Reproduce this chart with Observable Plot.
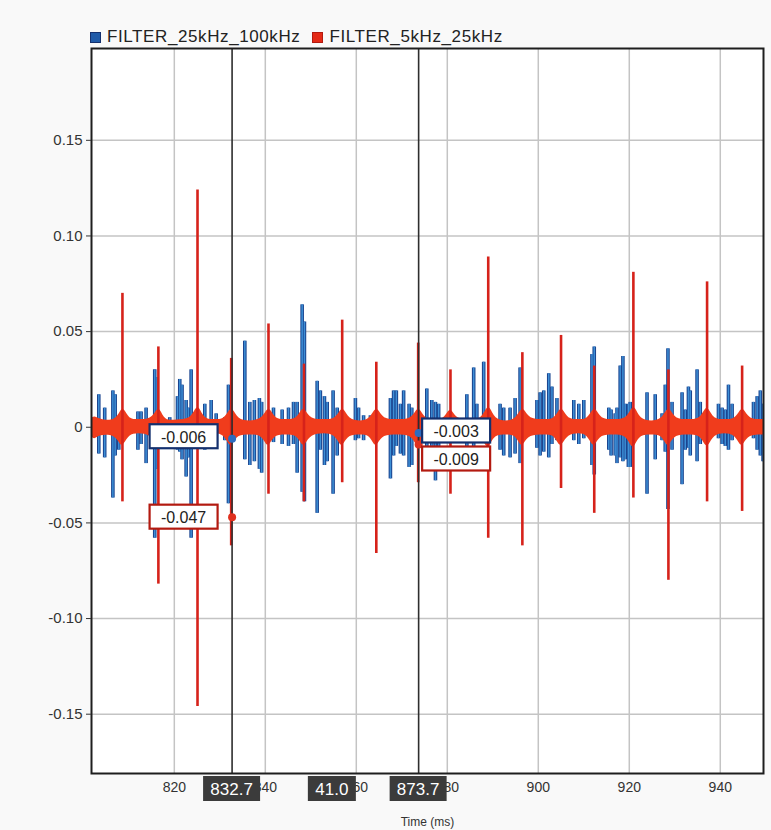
<!DOCTYPE html>
<html><head><meta charset="utf-8">
<script src="https://cdn.jsdelivr.net/npm/d3@7"></script>
<script src="https://cdn.jsdelivr.net/npm/@observablehq/plot@0.6"></script>
<style>
html,body{margin:0;padding:0;background:#f9f9f9;}
#wrap{position:relative;width:771px;height:830px;}
#legend{position:absolute;top:27px;left:90px;display:flex;align-items:center;font:17px "Liberation Sans",Arial,sans-serif;color:#222;letter-spacing:0.6px;white-space:nowrap;}
.item{display:flex;align-items:center;margin-right:12px;}
.sw{width:9px;height:9px;border:1px solid;margin-right:6px;}
svg{position:absolute;top:0;left:0;}
</style></head><body><div id="wrap"><div id="legend"></div></div>
<script>
// ---- series / legend ----
const seriesNames = ["FILTER_25kHz_100kHz", "FILTER_5kHz_25kHz"];
const seriesColors = ["#1f5aa8", "#e42a17"];
const seriesBorders = ["#14306e", "#b31a10"];

// ---- axes ----
const xTicks = [820, 840, 860, 880, 900, 920, 940];
const yTicks = [-0.15, -0.10, -0.05, 0, 0.05, 0.10, 0.15];

// ---- FILTER_25kHz_100kHz (blue) spikes: time, min, max ----
const blueT  = [803.4,804.7,806.5,807.0,807.8,812.0,812.7,813.8,815.7,816.2,819.0,820.7,821.2,821.7,822.6,823.1,823.7,826.7,828.1,829.2,831.1,831.9,835.5,836.6,837.6,838.7,839.2,841.8,843.7,845.1,846.2,847.0,848.1,848.6,851.4,852.1,853.0,853.6,854.9,855.8,859.8,860.5,861.6,863.1,867.5,868.2,868.8,869.7,870.4,871.6,872.2,875.5,876.6,877.4,878.1,884.3,885.8,886.5,888.0,891.6,892.4,893.8,894.9,896.0,899.7,900.4,901.2,902.3,903.0,904.1,907.8,908.9,910.0,911.8,912.3,915.5,916.0,916.9,917.3,918.0,918.6,919.1,919.8,920.2,923.9,925.7,927.2,927.9,928.5,929.4,931.6,932.3,933.0,933.4,934.9,935.6,939.6,940.4,941.1,941.8,942.6,947.3,948.1,948.8,949.4];
const blueLo = [-0.014,-0.016,-0.037,-0.015,-0.012,-0.012,-0.009,-0.019,-0.058,-0.022,-0.010,-0.012,-0.013,-0.017,-0.026,-0.016,-0.058,-0.012,-0.009,-0.009,-0.007,-0.040,-0.017,-0.020,-0.018,-0.022,-0.024,-0.008,-0.009,-0.010,-0.009,-0.024,-0.034,-0.039,-0.045,-0.012,-0.020,-0.018,-0.035,-0.015,-0.007,-0.006,-0.007,-0.005,-0.027,-0.015,-0.010,-0.014,-0.015,-0.021,-0.020,-0.022,-0.010,-0.028,-0.012,-0.017,-0.015,-0.007,-0.008,-0.012,-0.015,-0.016,-0.014,-0.019,-0.011,-0.015,-0.013,-0.016,-0.009,-0.007,-0.007,-0.009,-0.006,-0.020,-0.025,-0.012,-0.015,-0.015,-0.019,-0.016,-0.018,-0.017,-0.021,-0.021,-0.035,-0.017,-0.007,-0.013,-0.043,-0.012,-0.030,-0.012,-0.011,-0.015,-0.018,-0.009,-0.006,-0.009,-0.010,-0.012,-0.007,-0.006,-0.012,-0.015,-0.018];
const blueHi = [0.017,0.010,0.019,0.017,0.005,0.008,0.008,0.010,0.030,0.026,0.005,0.016,0.025,0.022,0.014,0.010,0.030,0.012,0.014,0.007,0.005,0.022,0.045,0.013,0.014,0.015,0.013,0.010,0.009,0.010,0.013,0.013,0.064,0.055,0.024,0.019,0.016,0.013,0.019,0.010,0.015,0.010,0.006,0.006,0.015,0.019,0.019,0.012,0.019,0.012,0.010,0.020,0.014,0.013,0.012,0.017,0.031,0.012,0.034,0.012,0.010,0.010,0.015,0.031,0.014,0.018,0.019,0.028,0.021,0.015,0.014,0.012,0.014,0.038,0.042,0.010,0.009,0.007,0.010,0.032,0.037,0.012,0.012,0.013,0.018,0.017,0.007,0.022,0.041,0.013,0.018,0.009,0.021,0.019,0.030,0.013,0.012,0.010,0.009,0.022,0.012,0.013,0.016,0.019,0.012];

// ---- FILTER_5kHz_25kHz (red) burst spikes: time, min, max ----
const redT  = [808.6,816.5,825.1,832.5,840.7,848.5,856.9,864.4,873.6,880.7,889.0,896.5,905.0,912.3,920.9,928.6,937.1,944.8];
const redLo = [-0.039,-0.082,-0.146,-0.062,-0.035,-0.039,-0.029,-0.066,-0.029,-0.035,-0.058,-0.062,-0.032,-0.045,-0.037,-0.080,-0.039,-0.044];
const redHi = [0.070,0.042,0.124,0.036,0.054,0.033,0.056,0.034,0.044,0.030,0.089,0.039,0.048,0.032,0.081,0.030,0.076,0.032];

// ---- red noise band envelope ----
const bandT  = [801.5,802.5,803.5,807.1,808.2,809.0,810.1,812.0,815.0,816.1,816.9,818.0,820.5,823.6,824.7,825.5,826.6,829.0,831.0,832.1,832.9,834.0,836.5,839.2,840.3,841.1,842.2,844.5,847.0,848.1,848.9,850.0,853.0,855.4,856.5,857.3,858.4,861.0,862.9,864.0,864.8,865.9,869.0,872.1,873.2,874.0,875.1,877.5,879.2,880.3,881.1,882.2,885.0,887.5,888.6,889.4,890.5,893.0,895.0,896.1,896.9,898.0,901.5,903.5,904.6,905.4,906.5,909.0,910.8,911.9,912.7,913.8,916.5,919.4,920.5,921.3,922.4,925.0,927.1,928.2,929.0,930.1,933.0,935.6,936.7,937.5,938.6,941.0,943.3,944.4,945.2,946.3,949.5];
const bandLo = [-0.004,-0.007,-0.004,-0.004,-0.010,-0.009,-0.004,-0.003,-0.004,-0.010,-0.009,-0.004,-0.004,-0.004,-0.011,-0.010,-0.004,-0.003,-0.004,-0.010,-0.009,-0.004,-0.004,-0.004,-0.010,-0.009,-0.004,-0.004,-0.004,-0.010,-0.009,-0.004,-0.003,-0.004,-0.010,-0.009,-0.004,-0.004,-0.004,-0.010,-0.009,-0.004,-0.004,-0.004,-0.010,-0.009,-0.004,-0.003,-0.004,-0.009,-0.009,-0.004,-0.004,-0.004,-0.011,-0.010,-0.004,-0.004,-0.004,-0.010,-0.009,-0.004,-0.004,-0.004,-0.010,-0.009,-0.004,-0.003,-0.004,-0.010,-0.009,-0.004,-0.004,-0.004,-0.011,-0.010,-0.004,-0.004,-0.004,-0.010,-0.009,-0.004,-0.004,-0.004,-0.010,-0.010,-0.004,-0.003,-0.004,-0.010,-0.009,-0.004,-0.004];
const bandHi = [0.004,0.006,0.004,0.003,0.009,0.010,0.004,0.004,0.004,0.009,0.010,0.003,0.004,0.004,0.010,0.011,0.004,0.004,0.004,0.009,0.010,0.004,0.003,0.004,0.009,0.010,0.004,0.004,0.004,0.010,0.009,0.004,0.004,0.004,0.009,0.010,0.004,0.003,0.004,0.009,0.010,0.004,0.004,0.004,0.009,0.010,0.004,0.004,0.004,0.009,0.009,0.004,0.004,0.004,0.010,0.011,0.004,0.003,0.004,0.009,0.010,0.004,0.004,0.004,0.009,0.010,0.004,0.004,0.004,0.009,0.010,0.004,0.004,0.004,0.010,0.011,0.004,0.003,0.004,0.009,0.010,0.004,0.004,0.004,0.010,0.010,0.004,0.004,0.004,0.009,0.010,0.004,0.004];

// ---- cursors ----
const cursorT = [832.7, 873.7];
const cursorBlue = [-0.006, -0.003];
const cursorRed = [-0.047, -0.009];

// ---- build tables ----
const blue = blueT.map((t, i) => ({t, lo: blueLo[i], hi: blueHi[i]}));
const red = redT.map((t, i) => ({t, lo: redLo[i], hi: redHi[i]}));
const band = bandT.map((t, i) => ({t, lo: bandLo[i], hi: bandHi[i]}));
const dotsBlue = cursorT.map((t, i) => ({t, v: cursorBlue[i]}));
const dotsRed = cursorT.map((t, i) => ({t, v: cursorRed[i]}));

// legend
const leg = document.getElementById("legend");
seriesNames.forEach((n, i) => {
  const it = document.createElement("div"); it.className = "item";
  const sw = document.createElement("div"); sw.className = "sw";
  sw.style.background = seriesColors[i]; sw.style.borderColor = seriesBorders[i];
  const tx = document.createElement("span"); tx.textContent = n;
  it.appendChild(sw); it.appendChild(tx); leg.appendChild(it);
});

const FONT = '"Liberation Sans", Arial, sans-serif';

function annotations(index, scales, values, dims) {
  const {x, y} = scales;
  const g = d3.create("svg:g").attr("font-family", FONT);
  const bottom = dims.height - dims.marginBottom;
  const fmt1 = d => d.toFixed(1);
  const labels = [
    {cx: x(cursorT[0]), text: fmt1(cursorT[0])},
    {cx: (x(cursorT[0]) + x(cursorT[1])) / 2 + 7, text: fmt1(cursorT[1] - cursorT[0])},
    {cx: x(cursorT[1]), text: fmt1(cursorT[1])}
  ];
  for (const l of labels) {
    const w = 12 + l.text.length * 9;
    g.append("rect").attr("x", l.cx - w / 2).attr("y", bottom + 3).attr("width", w).attr("height", 25).attr("fill", "#3b3b3b");
    g.append("text").attr("x", l.cx).attr("y", bottom + 16).attr("text-anchor", "middle")
      .attr("dominant-baseline", "central").attr("fill", "white").attr("font-size", 17).text(l.text);
  }
  cursorT.forEach((t, i) => {
    const px = x(t);
    const bw = 68, bh = 24;
    const bx = i === 0 ? px - 14 - bw : px + 4;
    const yb = y(cursorBlue[i]) - 2;
    let yr = y(cursorRed[i]);
    if (yr - yb < 28) yr = yb + 28;
    [[yb, cursorBlue[i], seriesBorders[0]], [yr, cursorRed[i], seriesBorders[1]]].forEach(([cy, v, col]) => {
      g.append("rect").attr("x", bx).attr("y", cy - bh / 2).attr("width", bw).attr("height", bh)
        .attr("fill", "white").attr("stroke", col).attr("stroke-width", 2.2);
      g.append("text").attr("x", bx + bw / 2).attr("y", cy + 1).attr("text-anchor", "middle")
        .attr("dominant-baseline", "central").attr("fill", "#222").attr("font-size", 16).text(v.toFixed(3));
    });
  });
  return g.node();
}

const chart = Plot.plot({
  width: 771, height: 830,
  marginLeft: 91, marginRight: 8, marginTop: 48, marginBottom: 57,
  style: {background: "transparent", fontFamily: FONT, fontSize: "14px", color: "#333", overflow: "visible"},
  x: {domain: [801.8, 949.5]},
  y: {domain: [-0.181, 0.198]},
  marks: [
    Plot.frame({fill: "white", stroke: "none"}),
    Plot.gridX(xTicks, {stroke: "#c4c4c4", strokeOpacity: 1, strokeWidth: 1.5}),
    Plot.gridY(yTicks, {stroke: "#c4c4c4", strokeOpacity: 1, strokeWidth: 1.5}),
    Plot.ruleX(blue, {x: "t", y1: "lo", y2: "hi", stroke: "#1b4590", strokeWidth: 3.6, clip: true}),
    Plot.ruleX(blue, {x: "t", y1: "lo", y2: "hi", stroke: "#3d8fd6", strokeWidth: 1.5, clip: true}),
    Plot.areaY(band, {x: "t", y1: "lo", y2: "hi", fill: "#f03c1c", curve: "basis", clip: true}),
    Plot.ruleX(red, {x: "t", y1: "lo", y2: "hi", stroke: "#d6221a", strokeWidth: 2.6, clip: true}),
    Plot.ruleX(cursorT, {stroke: "#2e2e2e", strokeWidth: 1.6}),
    Plot.dot(dotsBlue, {x: "t", y: "v", r: 4, fill: "#2c6cc0", stroke: "none"}),
    Plot.dot(dotsRed, {x: "t", y: "v", r: 4, fill: "#e0301e", stroke: "none"}),
    Plot.frame({stroke: "#1e1e1e", strokeWidth: 2}),
    Plot.axisY(yTicks, {tickFormat: d => d === 0 ? "0" : d.toFixed(2), tickSize: 5, tickPadding: 4, fontSize: 15, label: null, fill: "#333"}),
    Plot.axisX(xTicks, {tickSize: 0, tickPadding: 9, fontSize: 14, label: null, fill: "#333"}),
    Plot.text(["Time (ms)"], {text: d => d, frameAnchor: "bottom", dy: 52, fontSize: 12, fill: "#333"}),
    annotations
  ]
});
document.getElementById("wrap").appendChild(chart);
</script>
</body></html>
